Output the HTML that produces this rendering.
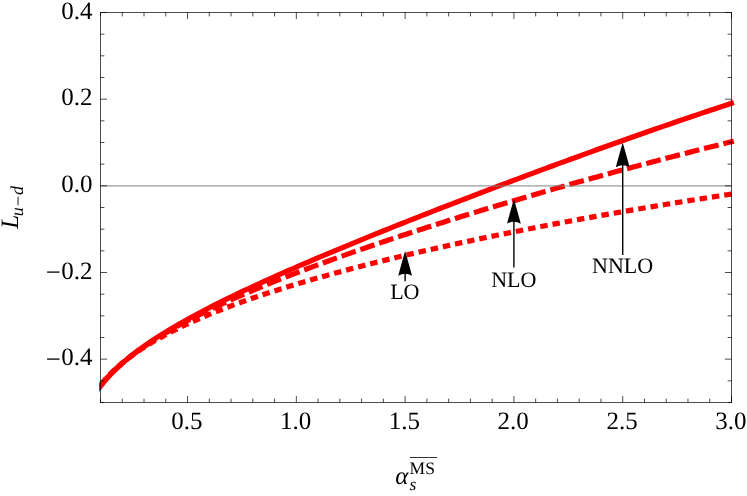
<!DOCTYPE html>
<html><head><meta charset="utf-8"><style>
html,body{margin:0;padding:0;background:#fff;}
svg{display:block;will-change:transform;}
text{font-family:"Liberation Serif",serif;fill:#000;text-rendering:geometricPrecision;}
</style></head><body>
<svg width="747" height="496" viewBox="0 0 747 496">
<defs><clipPath id="cp"><rect x="99.15" y="0" width="640" height="496"/></clipPath></defs>
<rect width="747" height="496" fill="#fff"/>
<g fill="none" stroke="#ff0000" stroke-width="5.2" clip-path="url(#cp)">
<path d="M96.36,389.99 L100.50,384.98 L104.73,379.86 L108.97,375.24 L113.20,371.02 L117.44,367.11 L121.67,363.47 L125.91,360.05 L130.14,356.82 L134.38,353.76 L138.61,350.84 L142.85,348.05 L147.08,345.37 L151.32,342.80 L155.55,340.32 L159.79,337.92 L164.02,335.61 L168.26,333.36 L172.49,331.19 L176.73,329.07 L180.96,327.01 L185.20,325.00 L189.43,323.05 L193.67,321.14 L197.90,319.27 L202.14,317.45 L206.37,315.66 L210.61,313.91 L214.84,312.19 L219.08,310.51 L223.31,308.86 L227.55,307.24 L231.78,305.65 L236.02,304.09 L240.25,302.55 L244.49,301.03 L248.72,299.54 L252.96,298.07 L257.19,296.63 L261.43,295.20 L265.66,293.80 L269.90,292.41 L274.13,291.04 L278.37,289.70 L282.60,288.36 L286.84,287.05 L291.07,285.75 L295.31,284.47 L299.54,283.20 L303.78,281.94 L308.01,280.71 L312.24,279.48 L316.48,278.27 L320.71,277.07 L324.95,275.88 L329.18,274.71 L333.42,273.54 L337.65,272.39 L341.89,271.25 L346.12,270.12 L350.36,269.00 L354.59,267.89 L358.83,266.79 L363.06,265.70 L367.30,264.63 L371.53,263.56 L375.77,262.49 L380.00,261.44 L384.24,260.40 L388.47,259.36 L392.71,258.34 L396.94,257.32 L401.18,256.31 L405.41,255.30 L409.65,254.31 L413.88,253.32 L418.12,252.34 L422.35,251.37 L426.59,250.40 L430.82,249.44 L435.06,248.49 L439.29,247.54 L443.53,246.60 L447.76,245.67 L452.00,244.74 L456.23,243.82 L460.47,242.90 L464.70,242.00 L468.94,241.09 L473.17,240.19 L477.41,239.30 L481.64,238.42 L485.88,237.54 L490.11,236.66 L494.35,235.79 L498.58,234.93 L502.82,234.07 L507.05,233.21 L511.29,232.36 L515.52,231.52 L519.76,230.68 L523.99,229.85 L528.22,229.02 L532.46,228.19 L536.69,227.37 L540.93,226.56 L545.16,225.74 L549.40,224.94 L553.63,224.14 L557.87,223.34 L562.10,222.55 L566.34,221.76 L570.57,220.97 L574.81,220.19 L579.04,219.42 L583.28,218.64 L587.51,217.88 L591.75,217.11 L595.98,216.35 L600.22,215.60 L604.45,214.85 L608.69,214.10 L612.92,213.36 L617.16,212.62 L621.39,211.88 L625.63,211.15 L629.86,210.42 L634.10,209.70 L638.33,208.98 L642.57,208.27 L646.80,207.55 L651.04,206.85 L655.27,206.14 L659.51,205.44 L663.74,204.74 L667.98,204.05 L672.21,203.36 L676.45,202.67 L680.68,201.99 L684.92,201.31 L689.15,200.64 L693.39,199.97 L697.62,199.30 L701.86,198.63 L706.09,197.97 L710.33,197.32 L714.56,196.66 L718.80,196.01 L723.03,195.37 L727.27,194.72 L731.50,194.08 L733.97,193.71" stroke-dasharray="7.46 4.98" stroke-dashoffset="4.72"/>
<path d="M96.40,390.87 L100.50,385.83 L104.73,380.63 L108.97,375.91 L113.20,371.57 L117.44,367.53 L121.67,363.74 L125.91,360.16 L130.14,356.76 L134.38,353.52 L138.61,350.41 L142.85,347.42 L147.08,344.53 L151.32,341.75 L155.55,339.05 L159.79,336.42 L164.02,333.87 L168.26,331.39 L172.49,328.96 L176.73,326.59 L180.96,324.28 L185.20,322.01 L189.43,319.78 L193.67,317.60 L197.90,315.46 L202.14,313.35 L206.37,311.28 L210.61,309.24 L214.84,307.23 L219.08,305.25 L223.31,303.30 L227.55,301.38 L231.78,299.48 L236.02,297.60 L240.25,295.75 L244.49,293.92 L248.72,292.11 L252.96,290.31 L257.19,288.54 L261.43,286.79 L265.66,285.05 L269.90,283.33 L274.13,281.62 L278.37,279.93 L282.60,278.26 L286.84,276.60 L291.07,274.95 L295.31,273.32 L299.54,271.70 L303.78,270.09 L308.01,268.50 L312.24,266.91 L316.48,265.34 L320.71,263.78 L324.95,262.23 L329.18,260.69 L333.42,259.16 L337.65,257.64 L341.89,256.12 L346.12,254.62 L350.36,253.13 L354.59,251.64 L358.83,250.17 L363.06,248.70 L367.30,247.24 L371.53,245.79 L375.77,244.34 L380.00,242.91 L384.24,241.48 L388.47,240.05 L392.71,238.64 L396.94,237.23 L401.18,235.83 L405.41,234.43 L409.65,233.05 L413.88,231.66 L418.12,230.29 L422.35,228.92 L426.59,227.56 L430.82,226.20 L435.06,224.85 L439.29,223.50 L443.53,222.16 L447.76,220.82 L452.00,219.50 L456.23,218.17 L460.47,216.85 L464.70,215.54 L468.94,214.23 L473.17,212.93 L477.41,211.63 L481.64,210.34 L485.88,209.05 L490.11,207.77 L494.35,206.49 L498.58,205.21 L502.82,203.94 L507.05,202.68 L511.29,201.42 L515.52,200.17 L519.76,198.92 L523.99,197.67 L528.22,196.43 L532.46,195.19 L536.69,193.96 L540.93,192.73 L545.16,191.51 L549.40,190.29 L553.63,189.07 L557.87,187.86 L562.10,186.65 L566.34,185.45 L570.57,184.25 L574.81,183.06 L579.04,181.87 L583.28,180.69 L587.51,179.50 L591.75,178.33 L595.98,177.15 L600.22,175.98 L604.45,174.82 L608.69,173.66 L612.92,172.50 L617.16,171.35 L621.39,170.20 L625.63,169.06 L629.86,167.92 L634.10,166.78 L638.33,165.65 L642.57,164.52 L646.80,163.40 L651.04,162.27 L655.27,161.16 L659.51,160.05 L663.74,158.94 L667.98,157.84 L672.21,156.74 L676.45,155.64 L680.68,154.55 L684.92,153.46 L689.15,152.38 L693.39,151.30 L697.62,150.22 L701.86,149.15 L706.09,148.09 L710.33,147.02 L714.56,145.96 L718.80,144.91 L723.03,143.86 L727.27,142.81 L731.50,141.77 L733.93,141.18" stroke-dasharray="14.93 4.98" stroke-dashoffset="15.56"/>
<path d="M96.41,391.11 L100.50,386.06 L104.73,380.82 L108.97,376.07 L113.20,371.69 L117.44,367.60 L121.67,363.76 L125.91,360.12 L130.14,356.65 L134.38,353.34 L138.61,350.15 L142.85,347.09 L147.08,344.12 L151.32,341.24 L155.55,338.45 L159.79,335.73 L164.02,333.08 L168.26,330.49 L172.49,327.96 L176.73,325.47 L180.96,323.04 L185.20,320.65 L189.43,318.30 L193.67,315.99 L197.90,313.71 L202.14,311.47 L206.37,309.26 L210.61,307.08 L214.84,304.92 L219.08,302.79 L223.31,300.68 L227.55,298.60 L231.78,296.54 L236.02,294.49 L240.25,292.47 L244.49,290.47 L248.72,288.48 L252.96,286.51 L257.19,284.55 L261.43,282.61 L265.66,280.68 L269.90,278.77 L274.13,276.86 L278.37,274.98 L282.60,273.10 L286.84,271.23 L291.07,269.37 L295.31,267.53 L299.54,265.69 L303.78,263.87 L308.01,262.05 L312.24,260.24 L316.48,258.44 L320.71,256.64 L324.95,254.86 L329.18,253.08 L333.42,251.31 L337.65,249.54 L341.89,247.78 L346.12,246.03 L350.36,244.29 L354.59,242.55 L358.83,240.81 L363.06,239.09 L367.30,237.36 L371.53,235.65 L375.77,233.93 L380.00,232.23 L384.24,230.52 L388.47,228.82 L392.71,227.13 L396.94,225.44 L401.18,223.76 L405.41,222.08 L409.65,220.40 L413.88,218.73 L418.12,217.06 L422.35,215.39 L426.59,213.73 L430.82,212.08 L435.06,210.42 L439.29,208.77 L443.53,207.13 L447.76,205.48 L452.00,203.85 L456.23,202.21 L460.47,200.58 L464.70,198.95 L468.94,197.32 L473.17,195.70 L477.41,194.08 L481.64,192.47 L485.88,190.85 L490.11,189.24 L494.35,187.64 L498.58,186.04 L502.82,184.44 L507.05,182.84 L511.29,181.25 L515.52,179.66 L519.76,178.07 L523.99,176.49 L528.22,174.90 L532.46,173.33 L536.69,171.75 L540.93,170.18 L545.16,168.61 L549.40,167.05 L553.63,165.49 L557.87,163.93 L562.10,162.38 L566.34,160.83 L570.57,159.28 L574.81,157.73 L579.04,156.19 L583.28,154.66 L587.51,153.12 L591.75,151.59 L595.98,150.06 L600.22,148.54 L604.45,147.02 L608.69,145.50 L612.92,143.99 L617.16,142.48 L621.39,140.98 L625.63,139.48 L629.86,137.98 L634.10,136.49 L638.33,135.00 L642.57,133.51 L646.80,132.03 L651.04,130.55 L655.27,129.08 L659.51,127.61 L663.74,126.15 L667.98,124.69 L672.21,123.23 L676.45,121.78 L680.68,120.33 L684.92,118.89 L689.15,117.45 L693.39,116.02 L697.62,114.59 L701.86,113.16 L706.09,111.74 L710.33,110.33 L714.56,108.92 L718.80,107.52 L723.03,106.12 L727.27,104.72 L731.50,103.33 L733.88,102.55"/>
</g>
<path d="M100.5 185.93L731.5 185.93" stroke="#808080" stroke-width="1" fill="none"/>
<path d="M405.12 272.70L405.12 281.20" stroke="#000" stroke-width="1.4" fill="none"/><path d="M405.12 251.00Q408.71 263.35 412.02 275.70Q405.12 271.70 398.22 275.70Q401.53 263.35 405.12 251.00Z" fill="#000"/>
<path d="M513.91 220.70L513.91 267.60" stroke="#000" stroke-width="1.4" fill="none"/><path d="M513.91 199.00Q517.50 211.35 520.81 223.70Q513.91 219.70 507.01 223.70Q510.33 211.35 513.91 199.00Z" fill="#000"/>
<path d="M622.71 164.30L622.71 255.00" stroke="#000" stroke-width="1.4" fill="none"/><path d="M622.71 142.60Q626.29 154.95 629.61 167.30Q622.71 163.30 615.81 167.30Q619.12 154.95 622.71 142.60Z" fill="#000"/>
<g font-size="22" text-anchor="middle">
<text x="404.8" y="298.6">LO</text>
<text x="513.8" y="286.6">NLO</text>
<text x="622.6" y="272.7">NNLO</text>
</g>
<rect x="100.5" y="12.5" width="631.0" height="390.0" fill="none" stroke="#000" stroke-opacity="0.7" stroke-width="1"/>
<path d="M100.50 402.50L100.50 398.60M100.50 12.50L100.50 16.40M122.26 402.50L122.26 398.60M122.26 12.50L122.26 16.40M144.02 402.50L144.02 398.60M144.02 12.50L144.02 16.40M165.78 402.50L165.78 398.60M165.78 12.50L165.78 16.40M187.53 402.50L187.53 396.00M187.53 12.50L187.53 19.00M209.29 402.50L209.29 398.60M209.29 12.50L209.29 16.40M231.05 402.50L231.05 398.60M231.05 12.50L231.05 16.40M252.81 402.50L252.81 398.60M252.81 12.50L252.81 16.40M274.57 402.50L274.57 398.60M274.57 12.50L274.57 16.40M296.33 402.50L296.33 396.00M296.33 12.50L296.33 19.00M318.09 402.50L318.09 398.60M318.09 12.50L318.09 16.40M339.84 402.50L339.84 398.60M339.84 12.50L339.84 16.40M361.60 402.50L361.60 398.60M361.60 12.50L361.60 16.40M383.36 402.50L383.36 398.60M383.36 12.50L383.36 16.40M405.12 402.50L405.12 396.00M405.12 12.50L405.12 19.00M426.88 402.50L426.88 398.60M426.88 12.50L426.88 16.40M448.64 402.50L448.64 398.60M448.64 12.50L448.64 16.40M470.40 402.50L470.40 398.60M470.40 12.50L470.40 16.40M492.16 402.50L492.16 398.60M492.16 12.50L492.16 16.40M513.91 402.50L513.91 396.00M513.91 12.50L513.91 19.00M535.67 402.50L535.67 398.60M535.67 12.50L535.67 16.40M557.43 402.50L557.43 398.60M557.43 12.50L557.43 16.40M579.19 402.50L579.19 398.60M579.19 12.50L579.19 16.40M600.95 402.50L600.95 398.60M600.95 12.50L600.95 16.40M622.71 402.50L622.71 396.00M622.71 12.50L622.71 19.00M644.47 402.50L644.47 398.60M644.47 12.50L644.47 16.40M666.22 402.50L666.22 398.60M666.22 12.50L666.22 16.40M687.98 402.50L687.98 398.60M687.98 12.50L687.98 16.40M709.74 402.50L709.74 398.60M709.74 12.50L709.74 16.40M731.50 402.50L731.50 396.00M731.50 12.50L731.50 19.00M100.50 402.50L104.40 402.50M731.50 402.50L727.60 402.50M100.50 380.83L104.40 380.83M731.50 380.83L727.60 380.83M100.50 359.17L107.00 359.17M731.50 359.17L725.00 359.17M100.50 337.50L104.40 337.50M731.50 337.50L727.60 337.50M100.50 315.83L104.40 315.83M731.50 315.83L727.60 315.83M100.50 294.17L104.40 294.17M731.50 294.17L727.60 294.17M100.50 272.50L107.00 272.50M731.50 272.50L725.00 272.50M100.50 250.83L104.40 250.83M731.50 250.83L727.60 250.83M100.50 229.17L104.40 229.17M731.50 229.17L727.60 229.17M100.50 207.50L104.40 207.50M731.50 207.50L727.60 207.50M100.50 185.83L107.00 185.83M731.50 185.83L725.00 185.83M100.50 164.17L104.40 164.17M731.50 164.17L727.60 164.17M100.50 142.50L104.40 142.50M731.50 142.50L727.60 142.50M100.50 120.83L104.40 120.83M731.50 120.83L727.60 120.83M100.50 99.17L107.00 99.17M731.50 99.17L725.00 99.17M100.50 77.50L104.40 77.50M731.50 77.50L727.60 77.50M100.50 55.83L104.40 55.83M731.50 55.83L727.60 55.83M100.50 34.17L104.40 34.17M731.50 34.17L727.60 34.17M100.50 12.50L107.00 12.50M731.50 12.50L725.00 12.50" stroke="#000" stroke-opacity="0.7" stroke-width="1" fill="none"/>
<g font-size="25"><text x="186.8" y="429.3" text-anchor="middle">0.5</text><text x="295.6" y="429.3" text-anchor="middle">1.0</text><text x="404.4" y="429.3" text-anchor="middle">1.5</text><text x="513.2" y="429.3" text-anchor="middle">2.0</text><text x="622.0" y="429.3" text-anchor="middle">2.5</text><text x="730.8" y="429.3" text-anchor="middle">3.0</text><text x="92.6" y="18.5" text-anchor="end">0.4</text><text x="92.6" y="105.2" text-anchor="end">0.2</text><text x="92.6" y="191.8" text-anchor="end">0.0</text><text x="92.6" y="278.5" text-anchor="end"><tspan font-size="26.8" dy="2.4">−</tspan><tspan dy="-2.4" dx="0.6">0.2</tspan></text><text x="92.6" y="365.2" text-anchor="end"><tspan font-size="26.8" dy="2.4">−</tspan><tspan dy="-2.4" dx="0.6">0.4</tspan></text></g>
<g transform="translate(18.4,228.8) rotate(-90)">
<text x="0" y="0" font-size="25" font-style="italic">L</text>
<text x="12.6" y="4.2" font-size="18" font-style="italic">u<tspan dy="1.2">−</tspan><tspan dy="-1.2">d</tspan></text>
</g>
<text x="395.3" y="484" font-size="25" font-style="italic">α</text>
<text x="409.5" y="490.2" font-size="17.5" font-style="italic">s</text>
<text x="409.6" y="473.9" font-size="17.5">MS</text>
<path d="M409.9 457.5L437 457.5" stroke="#333" stroke-width="1" fill="none"/>
</svg>
</body></html>
